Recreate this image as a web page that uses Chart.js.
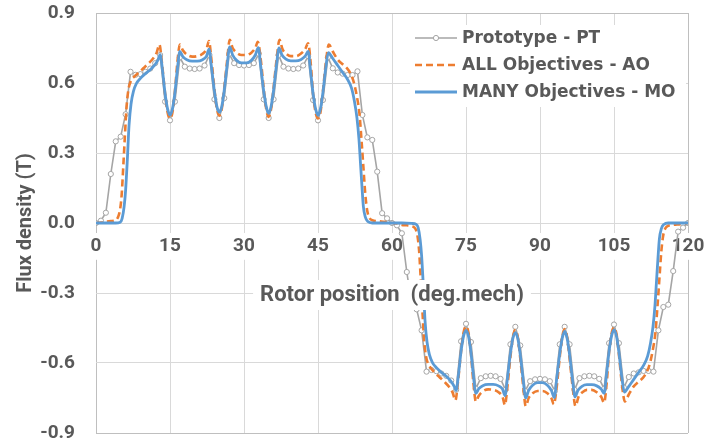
<!DOCTYPE html>
<html>
<head>
<meta charset="utf-8">
<title>Flux density vs rotor position</title>
<script src="https://cdn.jsdelivr.net/npm/chart.js@4.4.1/dist/chart.umd.min.js"></script>
<style>
  html, body { margin: 0; padding: 0; background: #fff; }
  #wrap { width: 707px; height: 445px; position: relative; }
</style>
</head>
<body>
<div id="wrap"><canvas id="flux"></canvas></div>
<script>
/* ============================================
   Air-gap flux density vs rotor position
   PT / AO / MO designs
   ============================================ */

// --- Data ---
const seriesLabels = ['Prototype - PT', 'ALL Objectives - AO', 'MANY Objectives - MO'];
const xTicks = [0, 15, 30, 45, 60, 75, 90, 105, 120];
const yTicks = [-0.9, -0.6, -0.3, 0, 0.3, 0.6, 0.9];

// Prototype: one sample per degree, 0..120
const ptFlux = [
  0, 0.01, 0.044, 0.21, 0.35, 0.37, 0.466, 0.648, 0.635, 0.638,
  0.648, 0.662, 0.685, 0.72, 0.52, 0.44, 0.52, 0.71, 0.67, 0.662,
  0.66, 0.662, 0.675, 0.72, 0.53, 0.45, 0.535, 0.725, 0.685, 0.677,
  0.675, 0.677, 0.685, 0.725, 0.53, 0.45, 0.53, 0.72, 0.67, 0.662,
  0.66, 0.662, 0.675, 0.715, 0.527, 0.44, 0.527, 0.71, 0.663, 0.645,
  0.64, 0.634, 0.634, 0.65, 0.463, 0.367, 0.356, 0.22, 0.042, 0.02,
  0,
  -0.01, -0.044, -0.21, -0.35, -0.37, -0.46, -0.637, -0.63, -0.635,
  -0.645, -0.655, -0.675, -0.715, -0.507, -0.432, -0.51, -0.71, -0.665, -0.657,
  -0.655, -0.657, -0.668, -0.715, -0.52, -0.445, -0.525, -0.72, -0.678, -0.67,
  -0.668, -0.67, -0.678, -0.72, -0.52, -0.445, -0.52, -0.715, -0.665, -0.657,
  -0.655, -0.657, -0.668, -0.71, -0.515, -0.435, -0.515, -0.705, -0.66, -0.645,
  -0.64, -0.634, -0.634, -0.637, -0.46, -0.36, -0.35, -0.206, -0.037, -0.02,
  0
];

// All objectives
const aoDeg = [
  0, 1, 2, 3, 4, 4.5, 4.9, 5.2, 5.55, 5.9, 6.2, 6.6, 7.1, 7.8, 8.6, 9.6, 10.6, 11.6, 12.3, 12.85,
  13.4, 14, 14.5, 15, 15.5, 16, 16.5, 17, 17.6, 18.4, 19.5, 20.5, 21.6, 22.4, 22.9,
  23.4, 24, 24.5, 25, 25.5, 26, 26.6, 27.1, 27.7, 28.5, 29.5, 30.5, 31.5, 32.3, 32.8,
  33.4, 34, 34.5, 35, 35.5, 36, 36.6, 37.2, 37.8, 38.6, 39.5, 40.5, 41.5, 42.4, 43,
  43.5, 44, 44.5, 45, 45.5, 46, 46.6, 47.2, 48, 49, 50, 50.8, 51.6, 52.3, 52.9,
  53.4, 53.8, 54.2, 54.6, 55, 55.5, 56, 57, 58.5, 60,
  61, 62, 63, 64, 64.8, 65.2, 65.5, 65.85, 66.2, 66.5, 66.9, 67.4, 68, 68.6, 69.6, 70.6, 71.6, 72.3, 72.85,
  73.4, 74, 74.5, 75, 75.5, 76, 76.5, 77, 77.6, 78.4, 79.5, 80.5, 81.6, 82.4, 82.9,
  83.4, 84, 84.5, 85, 85.5, 86, 86.6, 87.1, 87.7, 88.5, 89.5, 90.5, 91.5, 92.3, 92.8,
  93.4, 94, 94.5, 95, 95.5, 96, 96.6, 97.2, 97.8, 98.6, 99.5, 100.5, 101.5, 102.4, 103,
  103.5, 104, 104.5, 105, 105.5, 106, 106.6, 107.2, 108, 109, 110, 110.8, 111.6, 112.3, 112.9,
  113.4, 113.8, 114.2, 114.6, 115, 115.5, 116, 117, 118.5, 120
];
const aoFlux = [
  0, 0.002, 0.006, 0.008, 0.012, 0.027, 0.06, 0.12, 0.25, 0.39, 0.5, 0.575, 0.61, 0.628, 0.643, 0.663, 0.683, 0.706, 0.73, 0.765,
  0.68, 0.555, 0.475, 0.448, 0.475, 0.565, 0.69, 0.765, 0.74, 0.722, 0.713, 0.715, 0.725, 0.745, 0.78,
  0.7, 0.575, 0.49, 0.46, 0.49, 0.58, 0.7, 0.785, 0.75, 0.73, 0.72, 0.72, 0.73, 0.75, 0.777,
  0.7, 0.575, 0.49, 0.455, 0.49, 0.58, 0.7, 0.785, 0.745, 0.725, 0.715, 0.715, 0.725, 0.745, 0.77,
  0.69, 0.555, 0.475, 0.448, 0.475, 0.565, 0.69, 0.765, 0.735, 0.7, 0.68, 0.665, 0.64, 0.6, 0.54,
  0.47, 0.36, 0.24, 0.12, 0.05, 0.02, 0.012, 0.008, 0.005, 0,
  -0.002, -0.008, -0.01, -0.014, -0.027, -0.06, -0.12, -0.25, -0.39, -0.5, -0.572, -0.607, -0.625, -0.64, -0.66, -0.68, -0.703, -0.727, -0.76,
  -0.675, -0.55, -0.47, -0.443, -0.47, -0.56, -0.685, -0.765, -0.74, -0.722, -0.713, -0.715, -0.725, -0.745, -0.78,
  -0.7, -0.575, -0.49, -0.458, -0.49, -0.58, -0.7, -0.785, -0.75, -0.73, -0.72, -0.72, -0.73, -0.75, -0.777,
  -0.7, -0.575, -0.49, -0.455, -0.49, -0.58, -0.7, -0.785, -0.745, -0.725, -0.715, -0.715, -0.725, -0.745, -0.77,
  -0.69, -0.555, -0.475, -0.448, -0.475, -0.565, -0.69, -0.765, -0.735, -0.7, -0.68, -0.665, -0.64, -0.6, -0.54,
  -0.47, -0.36, -0.24, -0.12, -0.05, -0.02, -0.012, -0.008, -0.005, 0
];

// Many objectives
const moDeg = [
  0, 2, 4, 4.9, 5.3, 5.7, 6, 6.35, 6.7, 7.1, 7.6, 8.2, 9, 10, 11, 12, 12.6, 13,
  13.5, 14, 14.5, 15, 15.5, 16, 16.5, 17, 17.6, 18.4, 19.5, 20.5, 21.6, 22.4, 22.9,
  23.4, 24, 24.5, 25, 25.5, 26, 26.6, 27.1, 27.7, 28.5, 29.5, 30.5, 31.5, 32.3, 32.9,
  33.4, 34, 34.5, 35, 35.5, 36, 36.6, 37.1, 37.7, 38.5, 39.5, 40.5, 41.5, 42.4, 43,
  43.5, 44, 44.5, 45, 45.5, 46, 46.6, 47.1, 48, 49, 50, 51, 51.8, 52.4, 52.9,
  53.3, 53.6, 53.9, 54.2, 54.6, 55.1, 56, 58, 60,
  62, 64, 64.9, 65.3, 65.7, 66, 66.35, 66.7, 67.1, 67.6, 68.2, 69, 70, 71, 72, 72.6, 73,
  73.5, 74, 74.5, 75, 75.5, 76, 76.5, 77, 77.6, 78.4, 79.5, 80.5, 81.6, 82.4, 82.9,
  83.4, 84, 84.5, 85, 85.5, 86, 86.6, 87.1, 87.7, 88.5, 89.5, 90.5, 91.5, 92.3, 92.9,
  93.4, 94, 94.5, 95, 95.5, 96, 96.6, 97.1, 97.7, 98.5, 99.5, 100.5, 101.5, 102.4, 103,
  103.5, 104, 104.5, 105, 105.5, 106, 106.6, 107.1, 108, 109, 110, 111, 111.8, 112.4, 112.9,
  113.3, 113.6, 113.9, 114.2, 114.6, 115.1, 116, 118, 120
];
const moFlux = [
  0, 0, 0, 0.003, 0.02, 0.07, 0.14, 0.27, 0.42, 0.51, 0.565, 0.598, 0.62, 0.64, 0.657, 0.68, 0.7, 0.722,
  0.65, 0.555, 0.49, 0.463, 0.49, 0.56, 0.66, 0.735, 0.713, 0.7, 0.694, 0.694, 0.7, 0.715, 0.745,
  0.67, 0.565, 0.5, 0.475, 0.5, 0.57, 0.68, 0.755, 0.72, 0.697, 0.686, 0.686, 0.697, 0.72, 0.752,
  0.67, 0.565, 0.5, 0.47, 0.5, 0.57, 0.68, 0.75, 0.72, 0.702, 0.695, 0.695, 0.7, 0.715, 0.735,
  0.65, 0.555, 0.49, 0.462, 0.49, 0.56, 0.67, 0.73, 0.705, 0.675, 0.645, 0.615, 0.578, 0.52, 0.45,
  0.36, 0.26, 0.16, 0.07, 0.025, 0.006, 0, 0, 0,
  0, -0.002, -0.006, -0.02, -0.07, -0.14, -0.27, -0.42, -0.51, -0.565, -0.598, -0.62, -0.64, -0.657, -0.68, -0.7, -0.718,
  -0.645, -0.55, -0.485, -0.46, -0.485, -0.555, -0.655, -0.73, -0.71, -0.697, -0.692, -0.692, -0.698, -0.712, -0.74,
  -0.665, -0.56, -0.495, -0.47, -0.495, -0.565, -0.675, -0.75, -0.717, -0.695, -0.684, -0.684, -0.695, -0.717, -0.748,
  -0.665, -0.56, -0.495, -0.465, -0.495, -0.565, -0.675, -0.745, -0.717, -0.7, -0.693, -0.693, -0.698, -0.712, -0.73,
  -0.645, -0.55, -0.485, -0.458, -0.485, -0.555, -0.665, -0.725, -0.7, -0.67, -0.64, -0.61, -0.572, -0.515, -0.445,
  -0.355, -0.255, -0.155, -0.068, -0.024, -0.006, 0, 0, 0
];

// --- Look ---
const TEXT = '#595959';
const GRID = '#d9d9d9';
const FRAME = '#bfbfbf';
const COLORS = { pt: '#a5a5a5', ao: '#ed7d31', mo: '#5b9bd5' };
const TICK_FONT = { family: 'Roboto', weight: 'bold', size: 19 };

const toPoints = (xs, ys) => xs.map((x, i) => ({ x, y: ys[i] }));

// --- Legend drawn inside the plot, top right ---
const insideLegend = {
  id: 'insideLegend',
  afterDatasetsDraw(chart) {
    const { ctx, chartArea: a } = chart;
    const x0 = a.right - 273, y0 = a.top + 12;
    ctx.save();
    ctx.fillStyle = '#fff';
    ctx.fillRect(x0 - 5, y0, 276, 82);
    ctx.font = 'bold 17px "DejaVu Sans"';
    ctx.textBaseline = 'middle';
    chart.data.datasets.forEach((ds, i) => {
      const y = y0 + 13 + i * 27;
      ctx.strokeStyle = ds.borderColor;
      ctx.lineWidth = ds.borderWidth;
      ctx.setLineDash(ds.borderDash || []);
      ctx.beginPath();
      ctx.moveTo(x0, y);
      ctx.lineTo(x0 + 42, y);
      ctx.stroke();
      ctx.setLineDash([]);
      if (ds.pointRadius) {
        ctx.beginPath();
        ctx.arc(x0 + 21, y, ds.pointRadius, 0, Math.PI * 2);
        ctx.fillStyle = ds.pointBackgroundColor;
        ctx.fill();
        ctx.lineWidth = ds.pointBorderWidth;
        ctx.strokeStyle = ds.pointBorderColor;
        ctx.stroke();
      }
      ctx.fillStyle = TEXT;
      ctx.fillText(ds.label, x0 + 47, y + 1);
    });
    ctx.restore();
  }
};

// --- X axis title, boxed on top of the curves ---
const xTitle = {
  id: 'xTitle',
  afterDatasetsDraw(chart, args, opts) {
    const { ctx, chartArea: a, scales } = chart;
    const cx = (a.left + a.right) / 2;
    const cy = scales.y.getPixelForValue(0) + 72;
    ctx.save();
    ctx.font = 'bold 22px Roboto';
    const w = ctx.measureText(opts.text).width;
    ctx.fillStyle = '#fff';
    ctx.fillRect(cx - w / 2 - 7, cy - 15, w + 14, 30);
    ctx.fillStyle = TEXT;
    ctx.textAlign = 'center';
    ctx.textBaseline = 'middle';
    ctx.fillText(opts.text, cx, cy);
    ctx.restore();
  }
};

new Chart(document.getElementById('flux'), {
  type: 'scatter',
  data: {
    datasets: [
      {
        label: seriesLabels[0],
        data: ptFlux.map((y, deg) => ({ x: deg, y })), // 1 sample per degree
        showLine: true,
        borderColor: COLORS.pt,
        borderWidth: 1.6,
        pointRadius: 2.6,
        pointBackgroundColor: '#fff',
        pointBorderColor: COLORS.pt,
        pointBorderWidth: 1,
        tension: 0,
        order: 3,
      },
      {
        label: seriesLabels[1],
        data: toPoints(aoDeg, aoFlux),
        showLine: true,
        borderColor: COLORS.ao,
        borderWidth: 2.6,
        borderDash: [7, 4],
        pointRadius: 0,
        cubicInterpolationMode: 'monotone',
        order: 2,
      },
      {
        label: seriesLabels[2],
        data: toPoints(moDeg, moFlux),
        showLine: true,
        borderColor: COLORS.mo,
        borderWidth: 2.8,
        pointRadius: 0,
        cubicInterpolationMode: 'monotone',
        order: 1,
      },
    ],
  },
  options: {
    responsive: true,
    maintainAspectRatio: false,
    animation: false,
    devicePixelRatio: 1,
    layout: { padding: { left: 10, top: 13, right: 19, bottom: 12 } },
    scales: {
      x: {
        type: 'linear',
        position: { y: 0 },
        min: xTicks[0],
        max: xTicks[xTicks.length - 1],
        afterBuildTicks: (scale) => { scale.ticks = xTicks.map(v => ({ value: v })); },
        // axis sits on y = 0, so it must not eat layout space
        afterFit: (scale) => {
          scale.height = 0;
          scale.paddingLeft = 0; scale.paddingRight = 0;
          scale.paddingTop = 0; scale.paddingBottom = 0;
        },
        grid: {
          color: (c) => (c.tick && (c.tick.value === 0 || c.tick.value === 120)) ? FRAME : GRID,
          drawTicks: false,
        },
        border: { display: false },
        ticks: {
          color: TEXT,
          font: TICK_FONT,
          padding: 12,
          showLabelBackdrop: true,
          backdropColor: '#fff',
          backdropPadding: { top: 2, bottom: 2, left: 3, right: 3 },
        },
      },
      y: {
        type: 'linear',
        position: 'left',
        min: yTicks[0],
        max: yTicks[yTicks.length - 1],
        afterBuildTicks: (scale) => { scale.ticks = yTicks.map(v => ({ value: v })); },
        afterFit: (scale) => {
          scale.width = 86;
          scale.paddingTop = 0; scale.paddingBottom = 0;
        },
        grid: {
          color: (c) => (c.tick && Math.abs(c.tick.value) === 0.9) ? FRAME : GRID,
          drawTicks: false,
        },
        border: { display: false },
        ticks: {
          color: TEXT,
          font: TICK_FONT,
          padding: 21,
          callback: (v) => (Math.abs(v) < 1e-9 ? 0 : v).toFixed(1),
        },
        title: {
          display: true,
          text: 'Flux density (T)',
          color: TEXT,
          font: { family: 'Roboto', weight: 'bold', size: 20 },
        },
      },
    },
    plugins: {
      legend: { display: false },
      tooltip: { enabled: false },
      xTitle: { text: 'Rotor position  (deg.mech)' },
    },
  },
  plugins: [insideLegend, xTitle],
});
</script>
</body>
</html>
